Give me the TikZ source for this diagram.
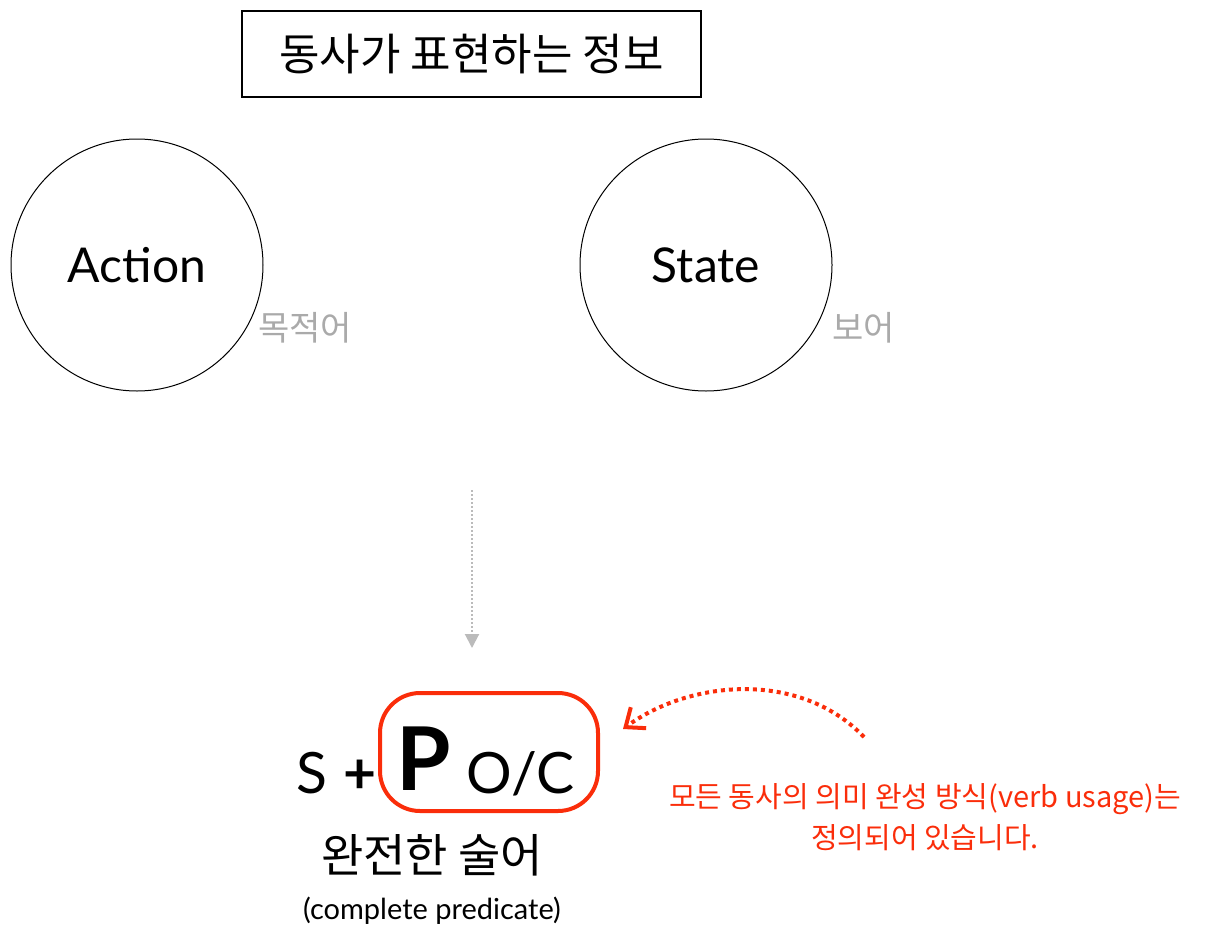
\documentclass[tikz,border=0pt]{standalone}
\usepackage{fontspec}
\setmainfont{Lato}
\newfontfamily\kr{Noto Sans CJK KR}
\usetikzlibrary{arrows.meta}
\definecolor{accent}{RGB}{250,45,10}
\definecolor{softgray}{RGB}{170,170,170}
\tikzset{
  x=1pt, y=-1pt,
  circ/.style={draw, circle, minimum size=252pt, inner sep=0pt, line width=1pt},
  titlebox/.style={draw, line width=2pt, minimum width=459pt, minimum height=86pt, inner sep=0pt},
  note/.style={text=softgray, font=\kr\fontsize{34}{38}\selectfont, anchor=base west},
}
\begin{document}
\begin{tikzpicture}
\useasboundingbox (0,0) rectangle (1229,929);
\node[titlebox, font=\kr\fontsize{44}{50}\selectfont] (title) at (471.5,54) {동사가 표현하는 정보};
\node[circ, font=\fontsize{48}{52}\selectfont] (action) at (137,265) {Action};
\node[circ, font=\fontsize{48}{52}\selectfont] (state) at (706,265) {State};
\node[note, inner sep=0pt] (obj) at (258,340) {목적어};
\node[note, inner sep=0pt] (comp) at (832,340) {보어};
% formula
\node[anchor=base west, inner sep=0pt, font=\fontsize{57}{60}\selectfont] (S) at (296,793) {S};
\node[anchor=base west, inner sep=0pt, font=\bfseries\fontsize{57}{60}\selectfont] (plus) at (343,793) {+};
\node[anchor=base west, inner sep=0pt, font=\bfseries\fontsize{88}{90}\selectfont] (P) at (396,790) {P};
\node[anchor=base west, inner sep=0pt, font=\fontsize{57}{60}\selectfont] (OC) at (466,793) {O/C};
\node[draw=accent, line width=4pt, rounded corners=40pt, minimum width=218pt, minimum height=118pt, inner sep=0pt] (box) at (489,752) {};
\coordinate (ptop) at (472,490);
\coordinate (pbot) at (472,648);
\draw[softgray!80, line width=2pt, dash pattern=on 2pt off 2pt, -{Triangle[length=14pt,width=14pt]}] (ptop) -- (pbot);
\node[font=\kr\fontsize{46}{50}\selectfont, inner sep=0pt] (pred) at (432,855) {완전한 술어};
\node[font=\fontsize{29}{32}\selectfont, inner sep=0pt] (eng) at (432,911) {(complete predicate)};
% red note
\node[text=accent, align=center, font=\kr\fontsize{29}{41}\selectfont, inner sep=0pt] (rnote) at (925,817) {모든 동사의 의미 완성 방식(verb usage)는\\정의되어 있습니다.};
\coordinate (cstart) at (864,737);
\draw[accent, line width=4pt, dash pattern=on 4pt off 4pt, -{Straight Barb[length=16pt,width=26pt,line width=4pt]}] (cstart) .. controls (800,670) and (690,680) .. (623,729);
\end{tikzpicture}
\end{document}
